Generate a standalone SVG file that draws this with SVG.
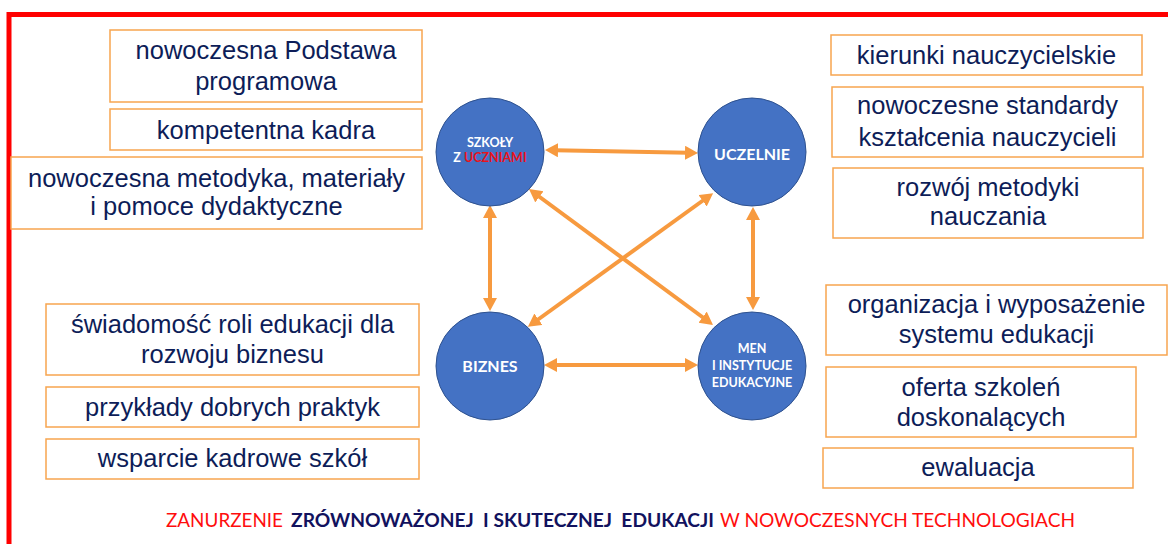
<svg xmlns="http://www.w3.org/2000/svg" width="1168" height="544" viewBox="0 0 1168 544">
<style>
.box{fill:#fff;stroke:#F7A54F;stroke-width:1.5}
.bt{font-family:"Liberation Sans",Arial,sans-serif;font-size:25.5px;fill:#0D1D58;text-anchor:middle}
.circ{fill:#4472C4;stroke:#2F528F;stroke-width:1}
.ct{font-family:Lato,"Open Sans",sans-serif;font-weight:bold;fill:#fff;text-anchor:middle}
.arr{stroke:#F79A3F;stroke-width:4;fill:none;marker-start:url(#ah);marker-end:url(#ah)}
.ft{font-family:Lato,"Open Sans",sans-serif;font-size:19px}
</style>
<defs>
<marker id="ah" markerUnits="userSpaceOnUse" markerWidth="16" markerHeight="16" refX="3" refY="7" orient="auto-start-reverse" viewBox="0 0 16 16">
<path d="M0,0 L13,7 L0,14 z" fill="#F79A3F"/>
</marker>
</defs>
<rect width="1168" height="544" fill="#fff"/>
<path d="M9,544 V14.5 H1168" fill="none" stroke="#FF0000" stroke-width="5"/>

<g id="connectors">
<line class="arr" x1="555" y1="150.2" x2="688" y2="152.8"/>
<line class="arr" x1="490" y1="215" x2="490" y2="301"/>
<line class="arr" x1="753" y1="217" x2="753" y2="300"/>
<line class="arr" x1="554" y1="365" x2="688" y2="365"/>
<line class="arr" x1="537" y1="195" x2="705" y2="319"/>
<line class="arr" x1="536" y1="321" x2="705" y2="199"/>
</g>

<g id="node-szkoly">
<circle class="circ" cx="490" cy="152" r="54"/>
<text class="ct" x="490" y="147" font-size="12.5">SZKOŁY</text>
<text class="ct" x="490" y="162" font-size="12.5">Z <tspan fill="#E8141C">UCZNIAMI</tspan></text>
</g>
<g id="node-uczelnie">
<circle class="circ" cx="752" cy="152" r="54"/>
<text class="ct" x="752" y="160" font-size="16">UCZELNIE</text>
</g>
<g id="node-biznes">
<circle class="circ" cx="490" cy="366" r="54"/>
<text class="ct" x="490" y="372" font-size="16">BIZNES</text>
</g>
<g id="node-men">
<circle class="circ" cx="752" cy="366" r="54"/>
<text class="ct" x="752" y="353" font-size="12.5">MEN</text>
<text class="ct" x="752" y="370" font-size="12.5">I INSTYTUCJE</text>
<text class="ct" x="752" y="387" font-size="12.5">EDUKACYJNE</text>
</g>

<g id="box-l1"><rect class="box" x="110" y="30" width="312" height="72"/>
<text class="bt" x="266" y="59">nowoczesna Podstawa</text><text class="bt" x="266" y="90">programowa</text></g>
<g id="box-l2"><rect class="box" x="110" y="109" width="312" height="41"/>
<text class="bt" x="266" y="139">kompetentna kadra</text></g>
<g id="box-l3"><rect class="box" x="11" y="157" width="411" height="72"/>
<text class="bt" x="216.5" y="187">nowoczesna metodyka, materiały</text><text class="bt" x="216.5" y="215">i pomoce dydaktyczne</text></g>

<g id="box-l4"><rect class="box" x="46" y="304" width="373" height="71"/>
<text class="bt" x="232.5" y="333">świadomość roli edukacji dla</text><text class="bt" x="232.5" y="363">rozwoju biznesu</text></g>
<g id="box-l5"><rect class="box" x="46" y="387" width="373" height="40"/>
<text class="bt" x="232.5" y="416">przykłady dobrych praktyk</text></g>
<g id="box-l6"><rect class="box" x="46" y="439" width="373" height="40"/>
<text class="bt" x="232.5" y="467">wsparcie kadrowe szkół</text></g>

<g id="box-r1"><rect class="box" x="831" y="35" width="311" height="40"/>
<text class="bt" x="986.5" y="64">kierunki nauczycielskie</text></g>
<g id="box-r2"><rect class="box" x="832" y="87" width="311" height="70"/>
<text class="bt" x="987.5" y="114">nowoczesne standardy</text><text class="bt" x="987.5" y="146">kształcenia nauczycieli</text></g>
<g id="box-r3"><rect class="box" x="833" y="168" width="310" height="70"/>
<text class="bt" x="988" y="196">rozwój metodyki</text><text class="bt" x="988" y="225">nauczania</text></g>

<g id="box-r4"><rect class="box" x="826" y="285" width="341" height="70"/>
<text class="bt" x="996.5" y="313">organizacja i wyposażenie</text><text class="bt" x="996.5" y="343">systemu edukacji</text></g>
<g id="box-r5"><rect class="box" x="826" y="367" width="310" height="70"/>
<text class="bt" x="981" y="396">oferta szkoleń</text><text class="bt" x="981" y="426">doskonalących</text></g>
<g id="box-r6"><rect class="box" x="823" y="448" width="310" height="40"/>
<text class="bt" x="978" y="476">ewaluacja</text></g>

<g id="footer">
<text class="ft" x="166" y="527" fill="#FF0D0D" textLength="117" lengthAdjust="spacingAndGlyphs">ZANURZENIE</text>
<text class="ft" x="291" y="527" fill="#12125E" font-weight="bold" style="white-space:pre" textLength="423" lengthAdjust="spacingAndGlyphs">ZRÓWNOWAŻONEJ  I SKUTECZNEJ  EDUKACJI</text>
<text class="ft" x="720" y="527" fill="#FF0D0D" textLength="355" lengthAdjust="spacingAndGlyphs">W NOWOCZESNYCH TECHNOLOGIACH</text>
</g>
</svg>
